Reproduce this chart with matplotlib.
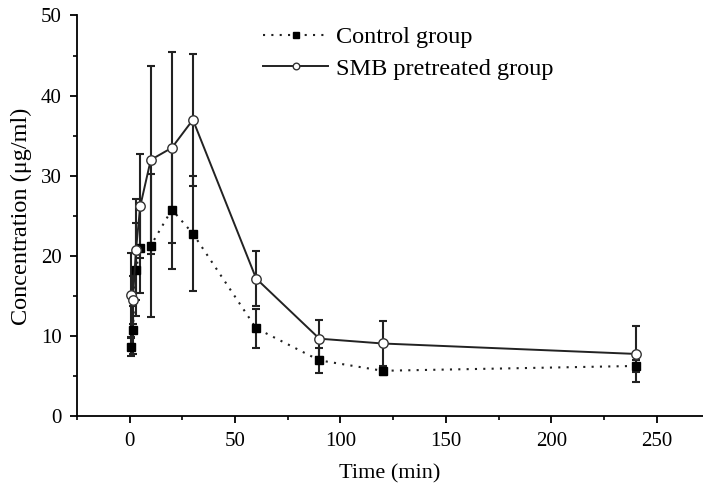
import matplotlib
matplotlib.use("Agg")
import matplotlib.pyplot as plt
from matplotlib.ticker import MultipleLocator

# sampling times (min)
time = [0.5, 1.5, 3, 5, 10, 20, 30, 60, 90, 120, 240]

# control group mean and SD
control = [8.7, 10.8, 18.3, 21.0, 21.3, 25.8, 22.8, 11.0, 7.0, 5.7, 6.3]
control_sd = [1.2, 3.0, 5.8, 5.6, 8.9, 7.4, 7.2, 2.4, 1.6, 0.5, 0.7]

# SMB pretreated group mean and SD
smb = [15.1, 14.5, 20.8, 26.2, 32.0, 33.5, 37.0, 17.2, 9.7, 9.1, 7.8]
smb_sd = [5.3, 3.0, 6.3, 6.5, 11.7, 11.9, 8.2, 3.4, 2.3, 2.8, 3.5]

plt.rcParams['font.family'] = ['Liberation Serif', 'DejaVu Serif']
plt.rcParams['font.size'] = 15

fig = plt.figure(figsize=(7.03, 4.92), dpi=100)
ax = fig.add_axes([0.1095, 0.1535, 0.8905, 0.815])

ax.errorbar(time, smb, yerr=smb_sd, fmt='none', ecolor='#222222',
            elinewidth=1.5, capsize=3, capthick=1.5, zorder=2)
ax.errorbar(time, control, yerr=control_sd, fmt='none', ecolor='#222222',
            elinewidth=1.5, capsize=3, capthick=1.5, zorder=2)

ax.plot(time, control, linestyle=(0, (1, 3)), color='#222222', linewidth=1.5,
        marker='s', markersize=6, markerfacecolor='black', markeredgecolor='black',
        label='Control group', zorder=3)
ax.plot(time, smb, linestyle='-', color='#222222', linewidth=1.4,
        marker='o', markersize=6.8, markerfacecolor='white', markeredgecolor='#333333',
        markeredgewidth=1.0, label='SMB pretreated group', zorder=4)

ax.set_xlim(-25, 272)
ax.set_ylim(0, 50)
ax.xaxis.set_major_locator(MultipleLocator(50))
ax.xaxis.set_minor_locator(MultipleLocator(25))
ax.yaxis.set_major_locator(MultipleLocator(10))
ax.yaxis.set_minor_locator(MultipleLocator(5))
ax.tick_params(which='major', direction='out', length=5, width=1.3, labelsize=15, pad=6)
ax.tick_params(which='minor', direction='out', length=3, width=1.2)

ax.spines['top'].set_visible(False)
ax.spines['right'].set_visible(False)
ax.spines['left'].set_linewidth(1.3)
ax.spines['bottom'].set_linewidth(1.3)

ax.set_xlabel('Time (min)', fontsize=16, labelpad=10)
ax.set_ylabel('Concentration (μg/ml)', fontsize=17.5, labelpad=6)

handles, labels = ax.get_legend_handles_labels()
leg = ax.legend(handles, labels, loc='upper left', bbox_to_anchor=(0.262, 1.028),
                frameon=False, fontsize=17.5, handlelength=2.7, handletextpad=0.3,
                labelspacing=0.4, markerscale=0.7)

fig.savefig('out.png', dpi=100)
